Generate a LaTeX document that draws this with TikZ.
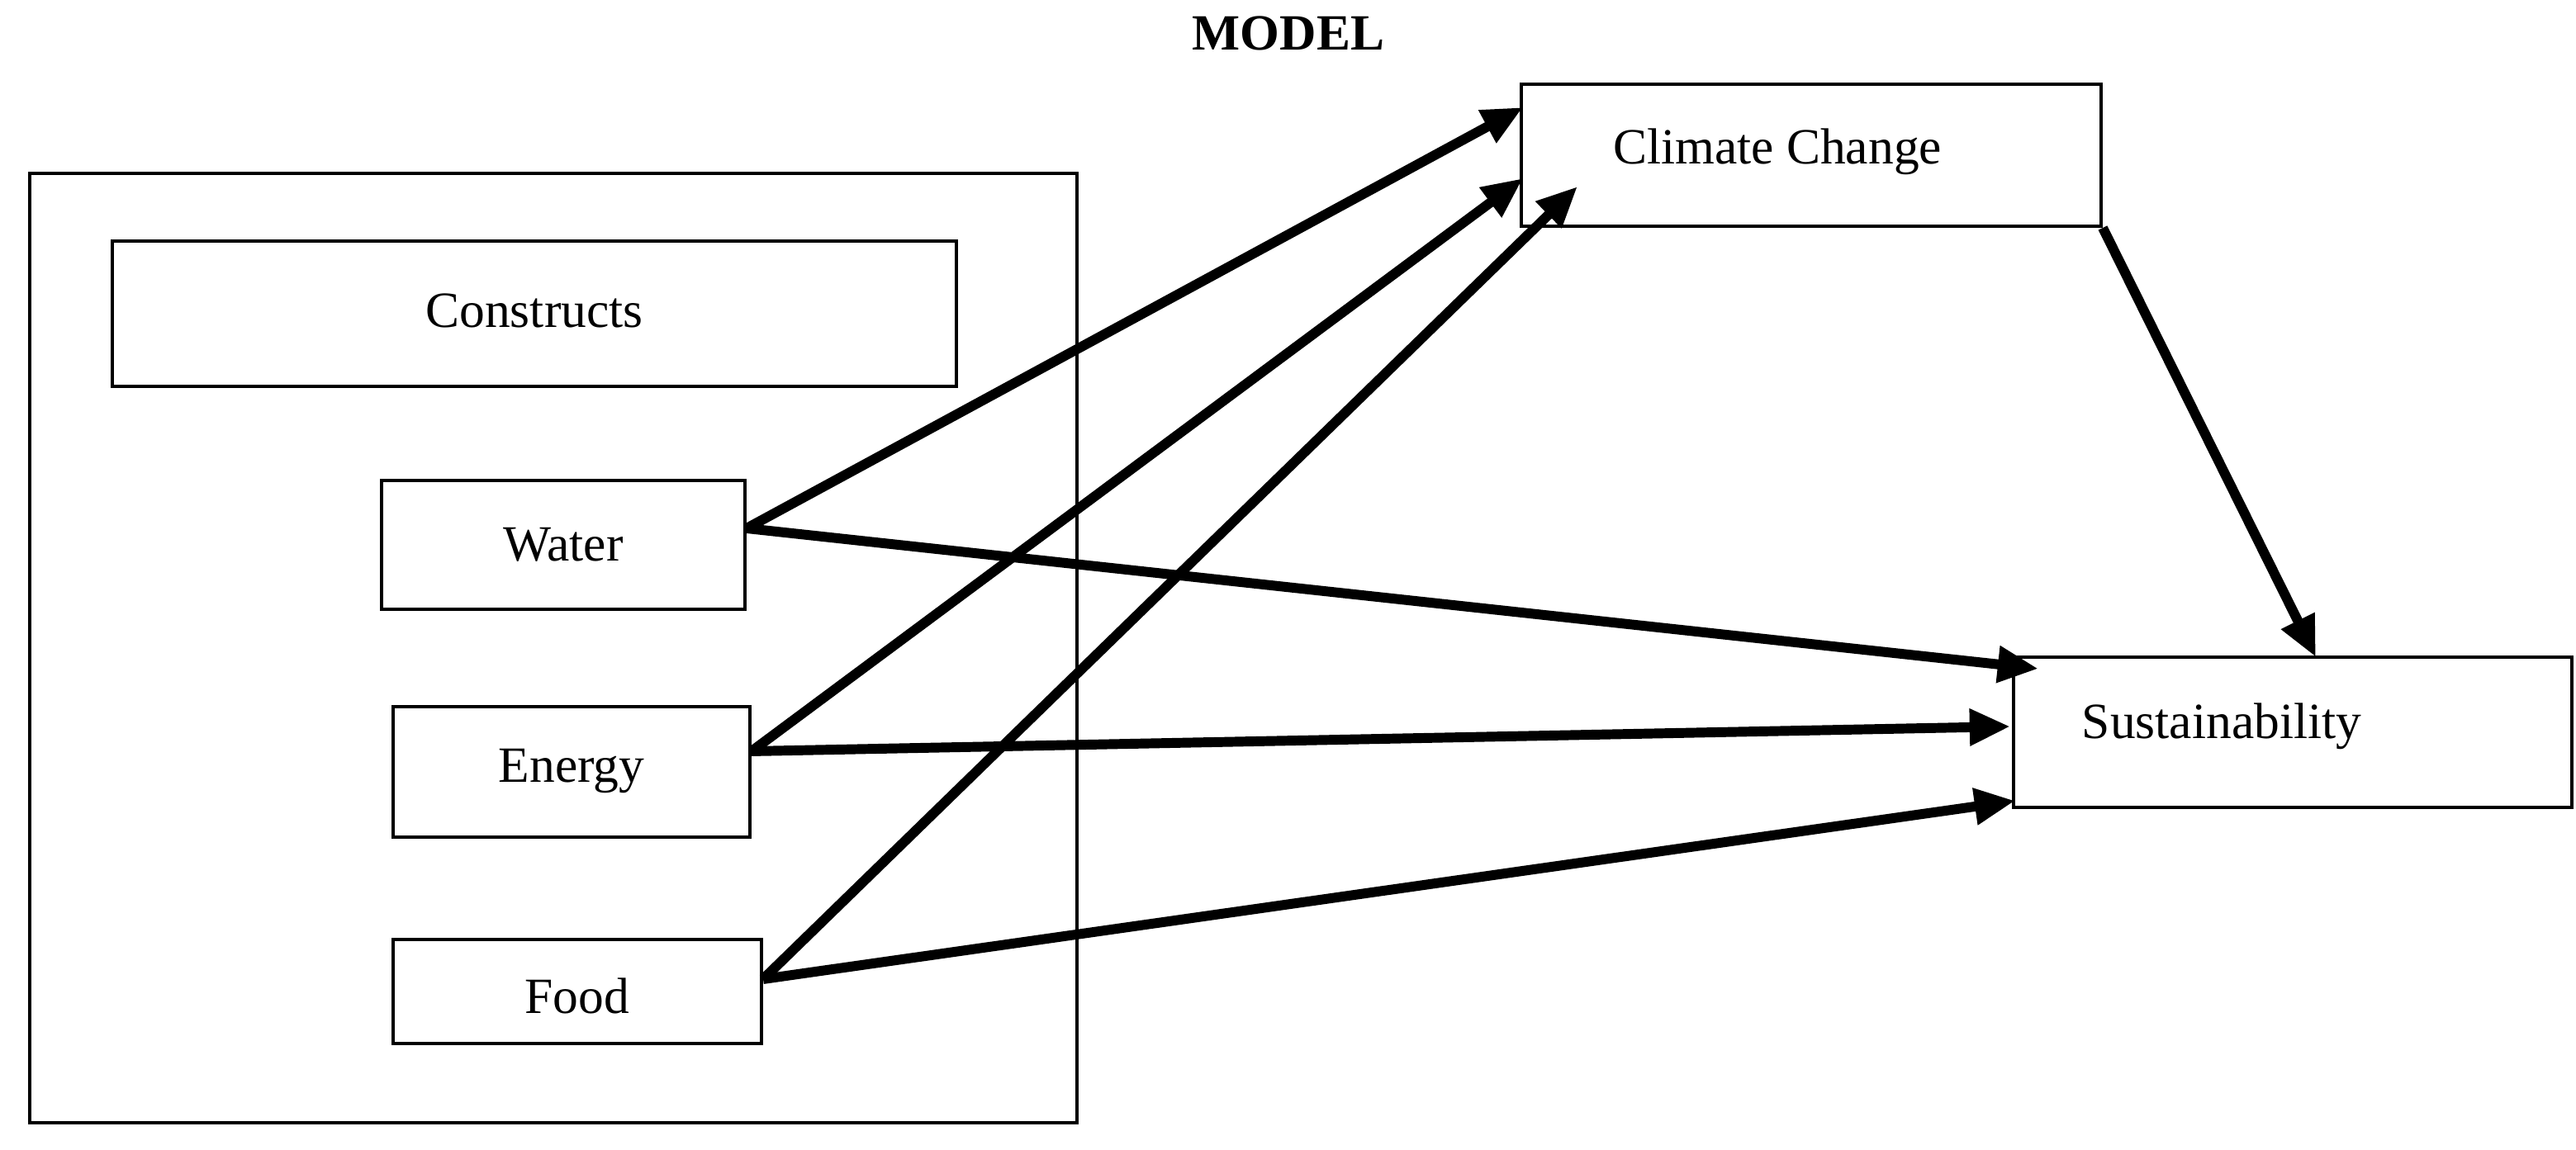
\documentclass[tikz,border=0pt]{standalone}
\usepackage{fontspec}
\setmainfont{Liberation Serif}
\usetikzlibrary{arrows.meta}
\begin{document}
\begin{tikzpicture}[x=0.02cm,y=-0.02cm,
  box/.style={draw,line width=1.1pt,inner sep=0pt},
  lbl/.style={font=\fontsize{17.5}{20}\selectfont},
  arr/.style={line width=3.4pt,-{Triangle[length=14pt,width=12pt]}}]
\useasboundingbox (0,0) rectangle (1559.5,696.5);
\draw[line width=1.1pt] (18,105) rectangle (652,680);
\node[box,minimum width=10.22cm,minimum height=1.76cm] (cons) at (323.5,190) {};
\node[lbl] at (323.5,188) {Constructs};
\node[box,minimum width=4.4cm,minimum height=1.56cm] (water) at (341,330) {};
\node[lbl] at (341,330) {Water};
\node[box,minimum width=4.32cm,minimum height=1.58cm] (energy) at (346,467.5) {};
\node[lbl] at (346,467) {Energy};
\node[box,minimum width=4.46cm,minimum height=1.26cm] (food) at (349.5,600.5) {};
\node[lbl] at (349.5,603) {Food};
\node[box,minimum width=7.02cm,minimum height=1.72cm] (cc) at (1096.5,94) {};
\node[lbl] at (1076,92) {Climate Change};
\node[box,minimum width=6.76cm,minimum height=1.82cm] (sus) at (1388,443.5) {};
\node[lbl] at (1345,440) {Sustainability};
\node[font=\fontsize{17.5}{20}\selectfont\bfseries] (model) at (780,20) {MODEL};
\coordinate (wS) at (452,320); \coordinate (eS) at (455,455); \coordinate (fS) at (462,593);
\coordinate (c1) at (922,65); \coordinate (c2) at (922,108); \coordinate (c3) at (955,113);
\coordinate (s1) at (1234,405); \coordinate (s2) at (1217,440); \coordinate (s3) at (1220,485);
\coordinate (cS) at (1273,138); \coordinate (sT) at (1402,398);
\draw[arr] (wS) -- (c1);
\draw[arr] (eS) -- (c2);
\draw[arr] (fS) -- (c3);
\draw[arr] (wS) -- (s1);
\draw[arr] (eS) -- (s2);
\draw[arr] (fS) -- (s3);
\draw[arr] (cS) -- (sT);
\end{tikzpicture}
\end{document}
